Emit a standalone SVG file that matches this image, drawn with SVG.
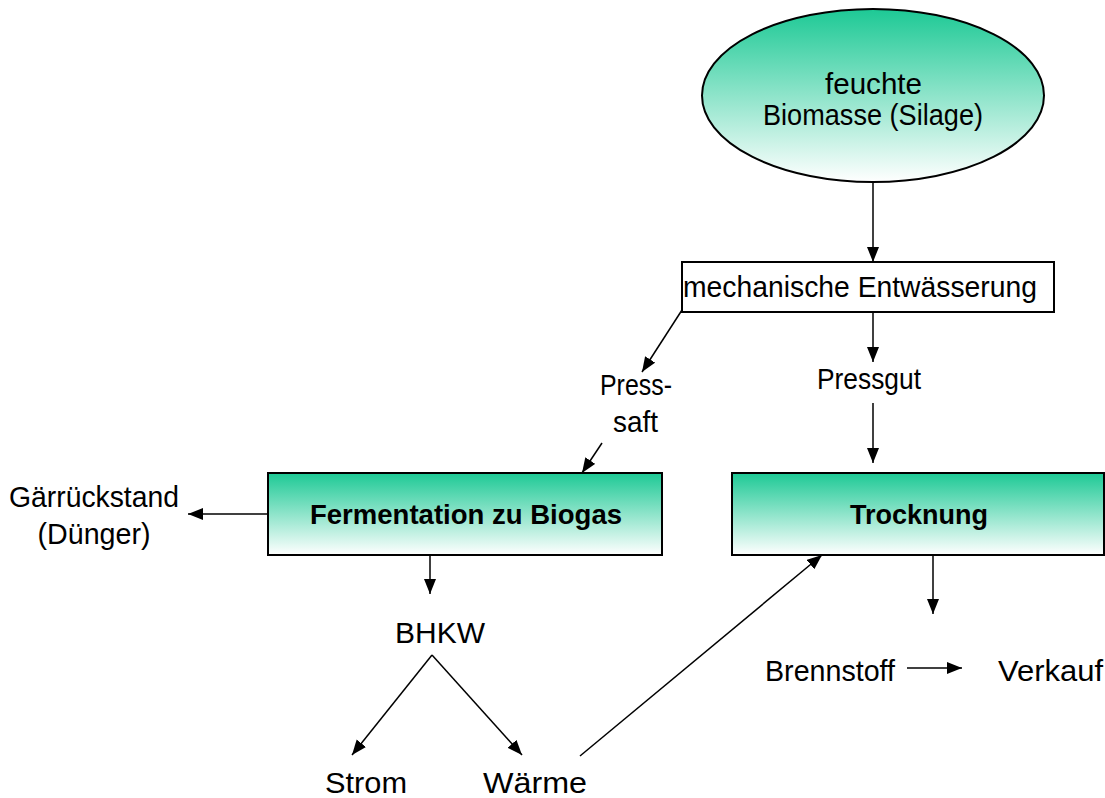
<svg xmlns="http://www.w3.org/2000/svg" width="1105" height="798" viewBox="0 0 1105 798">
<defs>
<linearGradient id="g" x1="0" y1="0" x2="0" y2="1">
<stop offset="0" stop-color="#1DC995"/>
<stop offset="1" stop-color="#FFFFFF"/>
</linearGradient>
<marker id="ah" markerUnits="userSpaceOnUse" markerWidth="16" markerHeight="14" refX="15" refY="6" orient="auto">
<path d="M0,0 L15,6 L0,12 Z" fill="#000"/>
</marker>
</defs>
<style>
text{font-family:"Liberation Sans",Arial,sans-serif;font-size:29px;fill:#000;text-anchor:middle}
.b{font-weight:bold;font-size:27px}
.node{stroke:#000;stroke-width:2}
.c line{stroke:#000;stroke-width:1.5;fill:none}
.a{marker-end:url(#ah)}
</style>
<rect width="1105" height="798" fill="#fff"/>
<g id="biomasse">
<ellipse class="node" cx="873" cy="95.5" rx="171" ry="86.5" fill="url(#g)"/>
<text x="873.5" y="94" textLength="97" lengthAdjust="spacingAndGlyphs">feuchte</text>
<text x="873" y="125" textLength="220" lengthAdjust="spacingAndGlyphs">Biomasse (Silage)</text>
</g>
<g id="entwaesserung">
<rect class="node" x="682" y="262" width="372" height="50" fill="#fff"/>
<text x="860" y="297" textLength="354" lengthAdjust="spacingAndGlyphs">mechanische Entwässerung</text>
</g>
<g id="presssaft">
<text x="636" y="395" textLength="72" lengthAdjust="spacingAndGlyphs">Press-</text>
<text x="635.5" y="432" textLength="45" lengthAdjust="spacingAndGlyphs">saft</text>
</g>
<g id="pressgut">
<text x="869" y="389" textLength="104" lengthAdjust="spacingAndGlyphs">Pressgut</text>
</g>
<g id="fermentation">
<rect class="node" x="268" y="473" width="394" height="82" fill="url(#g)"/>
<text class="b" x="466" y="524" textLength="312" lengthAdjust="spacingAndGlyphs">Fermentation zu Biogas</text>
</g>
<g id="trocknung">
<rect class="node" x="732" y="473" width="372" height="82" fill="url(#g)"/>
<text class="b" x="919" y="524" textLength="138" lengthAdjust="spacingAndGlyphs">Trocknung</text>
</g>
<g id="gaerrueckstand">
<text x="94" y="507" textLength="170" lengthAdjust="spacingAndGlyphs">Gärrückstand</text>
<text x="94" y="544" textLength="113" lengthAdjust="spacingAndGlyphs">(Dünger)</text>
</g>
<g id="bhkw">
<text x="440" y="643" textLength="90" lengthAdjust="spacingAndGlyphs">BHKW</text>
</g>
<g id="strom">
<text x="366" y="793" textLength="82" lengthAdjust="spacingAndGlyphs">Strom</text>
</g>
<g id="waerme">
<text x="535" y="793" textLength="104" lengthAdjust="spacingAndGlyphs">Wärme</text>
</g>
<g id="brennstoff">
<text x="830" y="681" textLength="130" lengthAdjust="spacingAndGlyphs">Brennstoff</text>
</g>
<g id="verkauf">
<text x="1050.5" y="681" textLength="105" lengthAdjust="spacingAndGlyphs">Verkauf</text>
</g>
<g id="connectors" class="c">
<line class="a" x1="873" y1="182" x2="873" y2="262"/>
<line class="a" x1="682" y1="310" x2="642" y2="372"/>
<line class="a" x1="873" y1="312" x2="873" y2="362"/>
<line class="a" x1="873" y1="403" x2="873" y2="463"/>
<line class="a" x1="602" y1="443" x2="582" y2="473"/>
<line class="a" x1="268" y1="514" x2="188" y2="514"/>
<line class="a" x1="430" y1="555" x2="430" y2="594"/>
<line class="a" x1="432" y1="655" x2="352" y2="755"/>
<line class="a" x1="432" y1="655" x2="522" y2="755"/>
<line class="a" x1="580" y1="756" x2="822" y2="555"/>
<line class="a" x1="933" y1="555" x2="933" y2="614"/>
<line class="a" x1="907" y1="668" x2="962" y2="668"/>
</g>
</svg>
